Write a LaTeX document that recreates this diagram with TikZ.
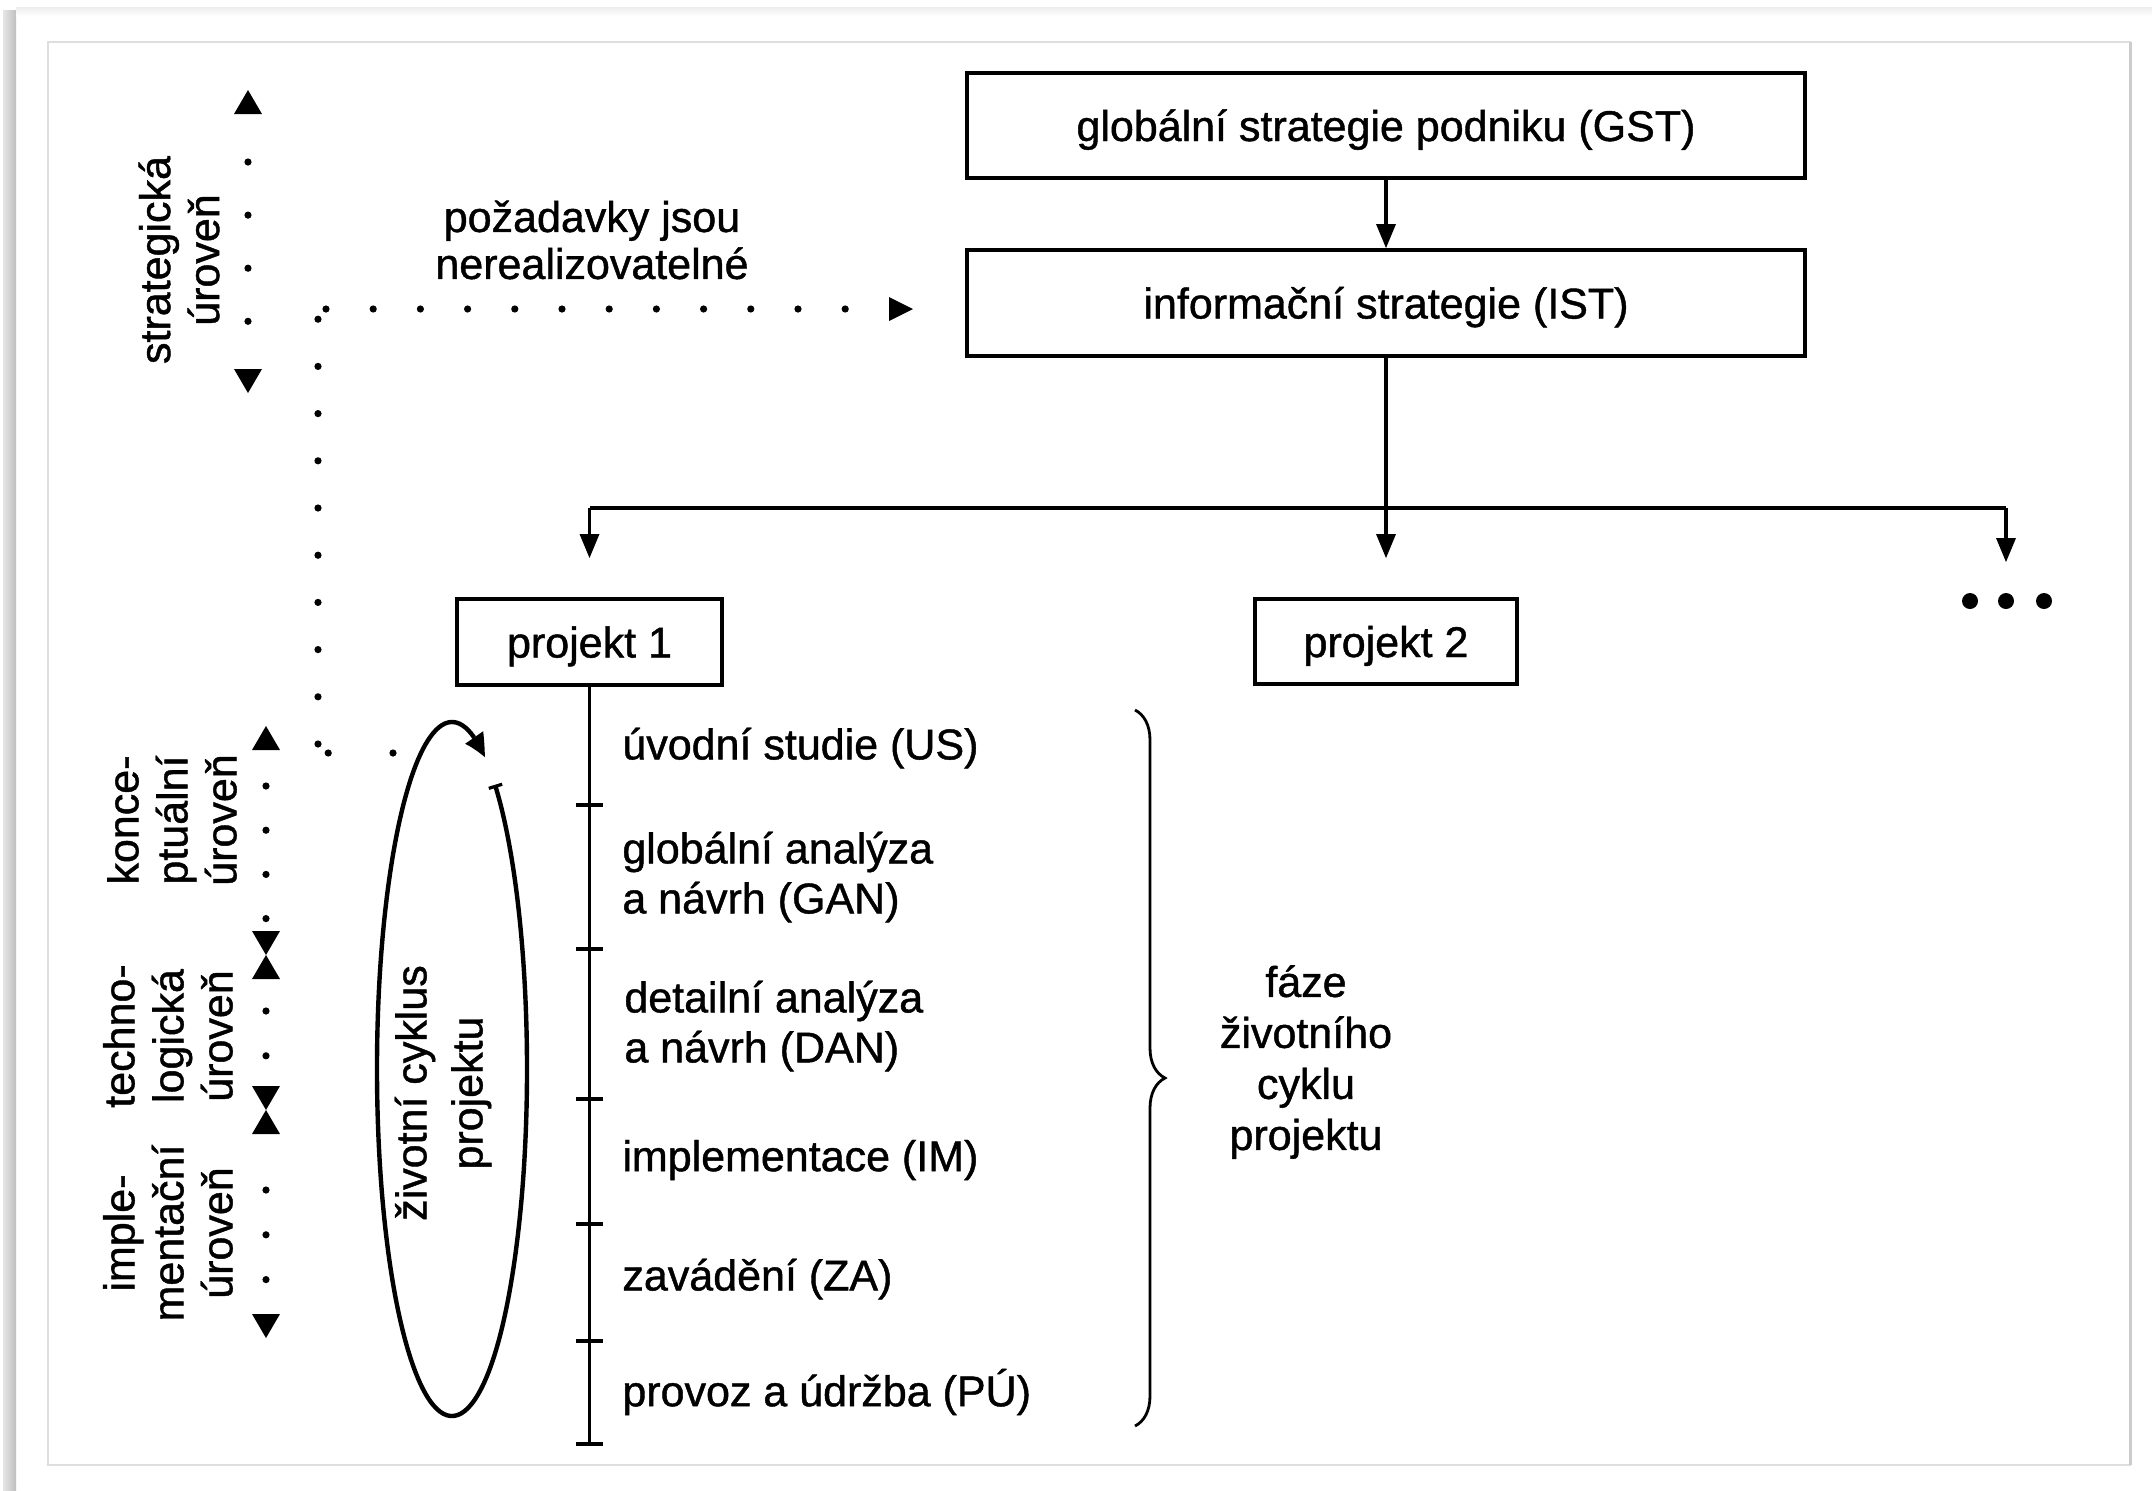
\documentclass[tikz,border=0pt]{standalone}
\usepackage{fontspec}
\setmainfont{Liberation Sans}[FakeBold=1]
\usetikzlibrary{arrows.meta,bending,decorations.pathreplacing,calc}
\begin{document}
\begin{tikzpicture}[x=0.5pt,y=-0.5pt,
  every node/.style={font=\fontsize{21.5pt}{25pt}\selectfont, inner sep=0pt},
  box/.style={draw, line width=2pt, align=center, text height=20.5pt, text depth=5pt},
  conn/.style={line width=1.8pt},
  tip/.style={-{Triangle[length=12pt,width=10pt,line width=0pt]}},
  dotrow/.style={line width=3.6pt, line cap=round, dash pattern=on 0pt off #1},
  level/.style={rotate=90, align=center, font=\fontsize{21.5pt}{24.5pt}\selectfont},
  triup/.pic={\fill (0,0) -- (-14,24) -- (14,24) -- cycle;},
  tridown/.pic={\fill (0,0) -- (-14,-24) -- (14,-24) -- cycle;}
]
% page and frame
\useasboundingbox (0,0) rectangle (2152,1490);
\fill[white] (0,0) rectangle (2152,1490);
\shade[left color=black!10, right color=black!25] (3,10) rectangle (16,1490);
\shade[top color=black!7, bottom color=white] (16,7) rectangle (2152,16);
\draw[black!13, line width=1pt] (48,42) rectangle (2130,1465);
\draw[black!20, line width=1.5pt] (2130,42) -- (2130,1465);

% strategy boxes
\node[box, minimum width=419pt, minimum height=52.5pt] (GST) at (1386,125.5) {globální strategie podniku (GST)};
\node[box, minimum width=419pt, minimum height=53pt] (IST) at (1386,303) {informační strategie (IST)};
\draw[conn,tip] (GST.south) -- (IST.north);

% projects
\node[box, minimum width=132.5pt, minimum height=43pt] (P1) at (589.5,642) {projekt 1};
\node[box, minimum width=131pt, minimum height=42.5pt] (P2) at (1386,641.5) {projekt 2};
\coordinate (more) at (2006,601);
\foreach \dx in {-36,0,38} \fill ($(more)+(\dx,0)$) circle[radius=8];

\coordinate (busMid) at (IST.south |- 0,508);
\coordinate (busL) at (P1.north |- busMid);
\coordinate (busR) at (more |- busMid);
\draw[conn] (IST.south) -- (busMid);
\draw[conn] (busL) -- (busR);
\draw[conn,tip] (busL) -- ($(P1.north)+(0,-39)$);
\draw[conn,tip] (busMid) -- ($(P2.north)+(0,-39)$);
\draw[conn,tip] (busR) -- ($(more)+(0,-39)$);

% project life-cycle phases
\coordinate (tlEnd) at (589.5,1444);
\draw[conn] (P1.south) -- (tlEnd);
\foreach \ty in {805,949,1099,1224,1341,1444} \draw[conn] (576,\ty) -- (603,\ty);
\node[anchor=west] (us) at (622,748) {úvodní studie (US)};
\node[anchor=west, align=left] (gan) at (622,877) {globální analýza\\a návrh (GAN)};
\node[anchor=west, align=left] (dan) at (624,1026) {detailní analýza\\a návrh (DAN)};
\node[anchor=west] (im) at (622,1160) {implementace (IM)};
\node[anchor=west] (za) at (622,1279) {zavádění (ZA)};
\node[anchor=west] (pu) at (622,1392) {provoz a údržba (PÚ)};

\draw[line width=1.4pt, decorate, decoration={brace, amplitude=15pt, aspect=0.514}] (1135,710) -- (1135,1426);
\node[align=center, font=\fontsize{21.5pt}{25.5pt}\selectfont] (faze) at (1306,1062) {fáze\\životního\\cyklu\\projektu};

% life-cycle loop
\coordinate (cycC) at (452,1069);
\draw[line width=2.2pt, {Bar[width=7pt,line width=1.6pt]}-{Triangle[length=12pt,width=11pt,line width=0pt,bend]}]
  ($(cycC)+(-55:75 and 347)$) arc[start angle=-55, end angle=296, x radius=75, y radius=347];
\node[rotate=90, align=center, font=\fontsize{21.5pt}{28pt}\selectfont] (cyc) at (443,1093) {životní cyklus\\projektu};

% feedback: requirements cannot be realised
\node[align=center, font=\fontsize{21.5pt}{23.5pt}\selectfont] (req) at (592,240) {požadavky jsou\\nerealizovatelné};
\coordinate (fbStart) at (393,753);
\coordinate (fbC1) at (328,753);
\coordinate (fbC2) at (318,744);
\coordinate (fbC3) at (318,316);
\coordinate (fbC4) at (326,309);
\coordinate (fbEnd) at (913,309);
\draw[dotrow=32.4pt] (fbStart) -- (fbC1);
\draw[dotrow=23.6pt] (fbC2) -- (fbC3);
\draw[dotrow=23.6pt, -{Triangle[length=12pt,width=12pt,line width=0pt]}] (fbC4) -- (fbEnd);

% level scales
\node[level] (lvS) at (179,260) {strategická\\úroveň};
\pic at (248,90) {triup};
\pic at (248,393) {tridown};
\draw[dotrow=26.55pt] (248,162) -- (248,324);

\node[level] (lvK) at (172,820) {konce-\\ptuální\\úroveň};
\node[level] (lvT) at (168,1036) {techno-\\logická\\úroveň};
\node[level] (lvI) at (168,1233) {imple-\\mentační\\úroveň};
\pic at (266,726) {triup};
\draw[dotrow=22.1pt] (266,786) -- (266,921);
\pic at (266,955) {tridown};
\pic at (266,955) {triup};
\draw[dotrow=22.4pt] (266,1011) -- (266,1058);
\pic at (266,1110) {tridown};
\pic at (266,1110) {triup};
\draw[dotrow=22.4pt] (266,1190) -- (266,1282);
\pic at (266,1338) {tridown};
\end{tikzpicture}
\end{document}
